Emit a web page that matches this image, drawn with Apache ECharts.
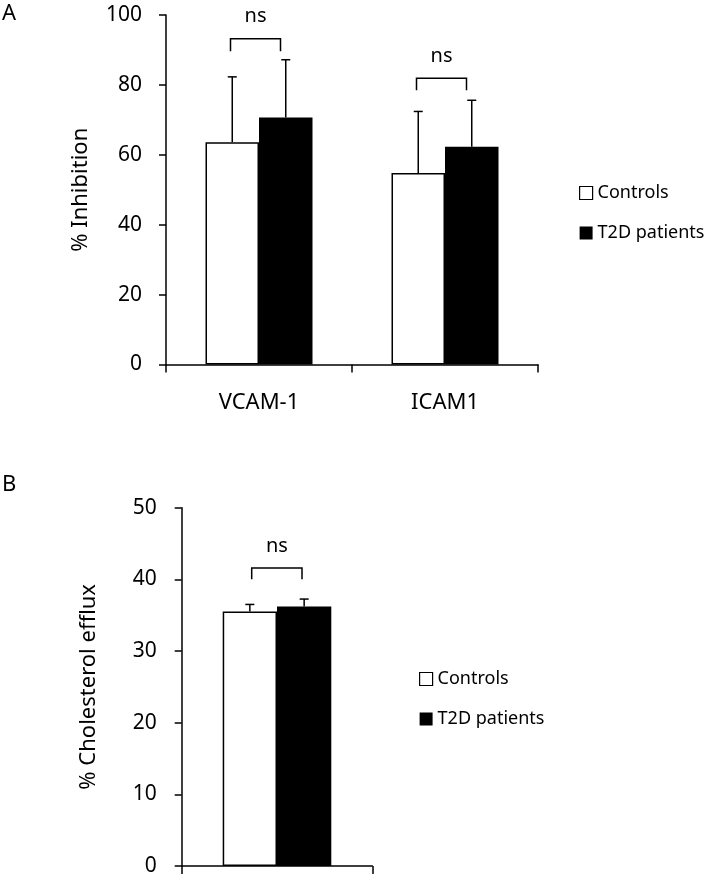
<!DOCTYPE html>
<html>
<head>
<meta charset="utf-8">
<script src="https://cdn.jsdelivr.net/npm/echarts@6/dist/echarts.min.js"></script>
<style>
html,body{margin:0;padding:0;background:#fff;}
#chart{width:712px;height:882px;}
</style>
</head>
<body>
<div id="chart"></div>
<script>
// ---------- Data ----------
const categoriesA = ['VCAM-1', 'ICAM1'];
const controlsA = [63.6, 54.8];
const controlsErrA = [18.7, 17.6];
const t2dA = [70.7, 62.3];
const t2dErrA = [16.5, 13.3];
const bracketTopA = [93.2, 81.9];
const bracketLegA = [89.6, 78.5];
const sigLabelsA = ['ns', 'ns'];

const categoriesB = ['Cholesterol efflux'];
const controlsB = [35.5];
const controlsErrB = [1.0];
const t2dB = [36.2];
const t2dErrB = [1.05];
const bracketTopB = [41.6];
const bracketLegB = [40.0];
const sigLabelsB = ['ns'];

const seriesNames = ['Controls', 'T2D patients'];
const yTitleA = '% Inhibition';
const yTitleB = '% Cholesterol efflux';

// ---------- Styles ----------
const FONT = 'Noto Sans';
const BAR_W = 53.5;
const LW = 1.5;

function errRender(offset) {
  return function (params, api) {
    const base = api.coord([api.value(0), api.value(1)]);
    const top = api.coord([api.value(0), api.value(1) + api.value(2)]);
    const x = base[0] + offset;
    return {
      type: 'group',
      children: [
        { type: 'line', shape: { x1: x, y1: base[1], x2: x, y2: top[1] }, style: { stroke: '#000', lineWidth: LW } },
        { type: 'line', shape: { x1: x - 4.5, y1: top[1], x2: x + 4.5, y2: top[1] }, style: { stroke: '#000', lineWidth: LW } }
      ]
    };
  };
}

function bracketRender(leftOff, rightOff) {
  return function (params, api) {
    const topP = api.coord([api.value(0), api.value(1)]);
    const legP = api.coord([api.value(0), api.value(2)]);
    const x1 = topP[0] + leftOff, x2 = topP[0] + rightOff;
    return {
      type: 'group',
      children: [
        { type: 'polyline', shape: { points: [[x1, legP[1]], [x1, topP[1]], [x2, topP[1]], [x2, legP[1]]] }, style: { stroke: '#000', lineWidth: LW, fill: null } },
        { type: 'text', x: (x1 + x2) / 2, y: topP[1] - 22, style: { text: api.value(3), fill: '#000', font: '20px "' + FONT + '"', align: 'center', verticalAlign: 'middle' } }
      ]
    };
  };
}

const axisLineStyle = { color: '#000', width: LW };

function legendCfg(left, top) {
  return {
    left: left, top: top, orient: 'vertical', itemWidth: 13, itemHeight: 13, itemGap: 22,
    textStyle: { fontSize: 18, fontFamily: FONT, color: '#000' }, icon: 'rect',
    selectedMode: false,
    data: [
      { name: seriesNames[0], itemStyle: { color: '#fff', borderColor: '#000', borderWidth: 1.2 } },
      { name: seriesNames[1], itemStyle: { color: '#000', borderColor: '#000', borderWidth: 0 } }
    ]
  };
}

const option = {
  animation: false,
  backgroundColor: '#fff',
  textStyle: { fontFamily: FONT, color: '#000' },
  grid: [
    { left: 166, top: 15, width: 372, height: 349.5 },
    { left: 181.7, top: 507.7, width: 190.6, height: 358.3 }
  ],
  legend: [legendCfg(574, 179), legendCfg(414, 665)],
  xAxis: [
    {
      type: 'category', gridIndex: 0, data: categoriesA,
      axisLine: { lineStyle: axisLineStyle },
      axisTick: { show: true, length: 8, lineStyle: axisLineStyle },
      axisLabel: { color: '#000', fontSize: 22, fontFamily: FONT, margin: 27 },
      splitLine: { show: false }
    },
    {
      type: 'category', gridIndex: 1, data: categoriesB,
      axisLine: { lineStyle: axisLineStyle },
      axisTick: { show: true, length: 8, lineStyle: axisLineStyle },
      axisLabel: { show: false },
      splitLine: { show: false }
    }
  ],
  yAxis: [
    {
      type: 'value', gridIndex: 0, min: 0, max: 100, interval: 20,
      axisLine: { show: true, lineStyle: axisLineStyle },
      axisTick: { show: true, length: 7, lineStyle: axisLineStyle },
      axisLabel: { color: '#000', fontSize: 21, fontFamily: FONT, margin: 24 },
      splitLine: { show: false },
      name: yTitleA, nameLocation: 'middle', nameGap: 74,
      nameTextStyle: { color: '#000', fontSize: 22, fontFamily: FONT }
    },
    {
      type: 'value', gridIndex: 1, min: 0, max: 50, interval: 10,
      axisLine: { show: true, lineStyle: axisLineStyle },
      axisTick: { show: true, length: 7, lineStyle: axisLineStyle },
      axisLabel: { color: '#000', fontSize: 21, fontFamily: FONT, margin: 25 },
      splitLine: { show: false },
      name: yTitleB, nameLocation: 'middle', nameGap: 82,
      nameTextStyle: { color: '#000', fontSize: 22, fontFamily: FONT }
    }
  ],
  series: [
    {
      name: seriesNames[0], type: 'bar', xAxisIndex: 0, yAxisIndex: 0, data: controlsA,
      barWidth: BAR_W, barGap: '0%',
      itemStyle: { color: '#fff', borderColor: '#000', borderWidth: LW }
    },
    {
      name: seriesNames[1], type: 'bar', xAxisIndex: 0, yAxisIndex: 0, data: t2dA,
      barWidth: BAR_W, barGap: '0%',
      itemStyle: { color: '#000', borderColor: '#000', borderWidth: LW }
    },
    {
      name: seriesNames[0], type: 'bar', xAxisIndex: 1, yAxisIndex: 1, data: controlsB,
      barWidth: BAR_W + 0.8, barGap: '0%',
      itemStyle: { color: '#fff', borderColor: '#000', borderWidth: LW }
    },
    {
      name: seriesNames[1], type: 'bar', xAxisIndex: 1, yAxisIndex: 1, data: t2dB,
      barWidth: BAR_W + 0.8, barGap: '0%',
      itemStyle: { color: '#000', borderColor: '#000', borderWidth: LW }
    },
    {
      type: 'custom', xAxisIndex: 0, yAxisIndex: 0, z: 5,
      renderItem: errRender(-BAR_W / 2),
      data: controlsA.map((v, i) => [i, v, controlsErrA[i]])
    },
    {
      type: 'custom', xAxisIndex: 0, yAxisIndex: 0, z: 5,
      renderItem: errRender(BAR_W / 2),
      data: t2dA.map((v, i) => [i, v, t2dErrA[i]])
    },
    {
      type: 'custom', xAxisIndex: 1, yAxisIndex: 1, z: 5,
      renderItem: errRender(-(BAR_W + 0.8) / 2),
      data: controlsB.map((v, i) => [i, v, controlsErrB[i]])
    },
    {
      type: 'custom', xAxisIndex: 1, yAxisIndex: 1, z: 5,
      renderItem: errRender((BAR_W + 0.8) / 2),
      data: t2dB.map((v, i) => [i, v, t2dErrB[i]])
    },
    {
      type: 'custom', xAxisIndex: 0, yAxisIndex: 0, z: 5,
      renderItem: bracketRender(-28.5, 21.5),
      dimensions: ['x', 'top', 'leg', { name: 'label', type: 'ordinal' }],
      data: bracketTopA.map((v, i) => [i, v, bracketLegA[i], sigLabelsA[i]])
    },
    {
      type: 'custom', xAxisIndex: 1, yAxisIndex: 1, z: 5,
      renderItem: bracketRender(-25.3, 25),
      dimensions: ['x', 'top', 'leg', { name: 'label', type: 'ordinal' }],
      data: bracketTopB.map((v, i) => [i, v, bracketLegB[i], sigLabelsB[i]])
    }
  ],
  graphic: [
    { type: 'text', left: 2, top: 3, style: { text: 'A', fill: '#000', font: '22px "' + FONT + '"' } },
    { type: 'text', left: 2, top: 474, style: { text: 'B', fill: '#000', font: '22px "' + FONT + '"' } }
  ]
};

const chart = echarts.init(document.getElementById('chart'), null, { renderer: 'canvas' });
chart.setOption(option);
</script>
</body>
</html>
